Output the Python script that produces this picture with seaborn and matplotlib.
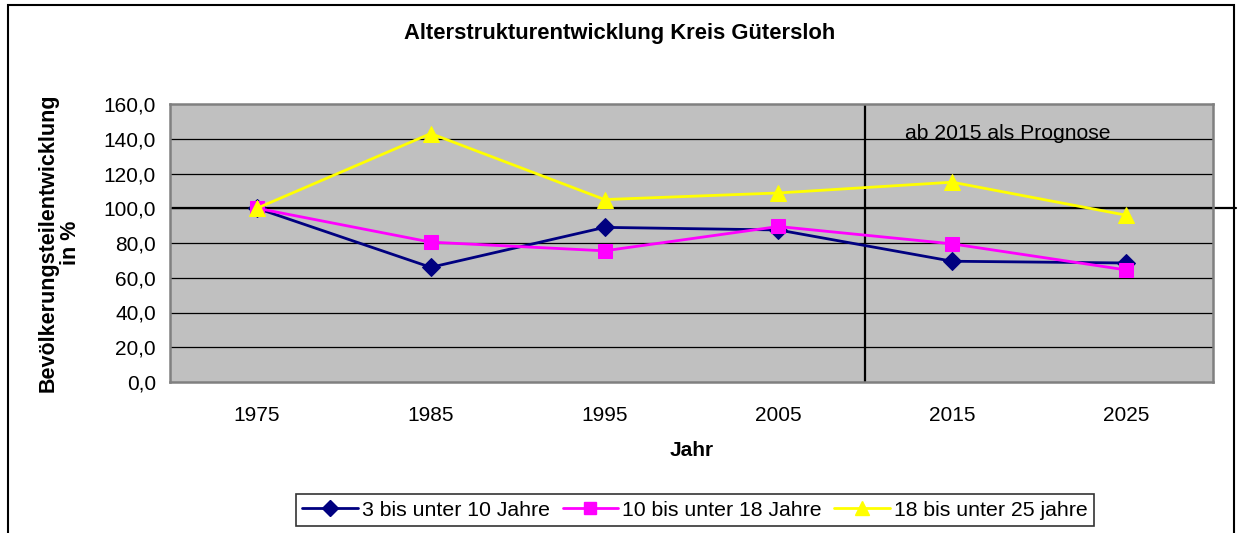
import matplotlib
matplotlib.use("Agg")
import matplotlib.pyplot as plt
import matplotlib.patches as mpatches
from matplotlib.lines import Line2D
import seaborn as sns
import pandas as pd

years = ["1975", "1985", "1995", "2005", "2015", "2025"]
s_3_10 = [100.0, 66.0, 89.0, 87.5, 69.5, 68.5]
s_10_18 = [100.0, 80.5, 75.5, 89.5, 79.5, 64.5]
s_18_25 = [100.0, 143.0, 105.0, 108.8, 115.0, 96.0]
series_names = ["3 bis unter 10 Jahre", "10 bis unter 18 Jahre", "18 bis unter 25 jahre"]
yticks = [0, 20, 40, 60, 80, 100, 120, 140, 160]

rows = []
for name, vals in zip(series_names, [s_3_10, s_10_18, s_18_25]):
    for i, (yr, v) in enumerate(zip(years, vals)):
        rows.append({"Jahr": i, "Wert": v, "Serie": name})
df = pd.DataFrame(rows)

sns.set_style("white")
plt.rcParams["font.family"] = ["Liberation Sans", "DejaVu Sans"]
plt.rcParams["text.color"] = "#000000"
plt.rcParams["axes.labelcolor"] = "#000000"
plt.rcParams["xtick.color"] = "#000000"
plt.rcParams["ytick.color"] = "#000000"
plt.rcParams["xtick.labelcolor"] = "#000000"
plt.rcParams["ytick.labelcolor"] = "#000000"

colors = {"3 bis unter 10 Jahre": "#000080",
          "10 bis unter 18 Jahre": "#FF00FF",
          "18 bis unter 25 jahre": "#FFFF00"}
markers = {"3 bis unter 10 Jahre": "D",
           "10 bis unter 18 Jahre": "s",
           "18 bis unter 25 jahre": "^"}
msizes = {"3 bis unter 10 Jahre": 9,
          "10 bis unter 18 Jahre": 10,
          "18 bis unter 25 jahre": 11}

fig = plt.figure(figsize=(12.39, 5.33), dpi=100)
ax = fig.add_axes([170 / 1239, 1 - 382 / 533, (1213 - 170) / 1239, (382 - 104) / 533])
ax.set_facecolor("#C0C0C0")

ax.set_ylim(0, 160)
ax.set_xlim(-0.5, 5.5)
for yv in yticks[1:-1]:
    ax.axhline(yv, color="#000000", lw=0.9, zorder=1)

ax.axvline(3.5, color="#000000", lw=1.6, zorder=2)
ax.add_line(Line2D([-0.49, 5.63], [100, 100], color="#000000", lw=1.6,
                   clip_on=False, zorder=2))

for name in series_names:
    sub = df[df["Serie"] == name]
    sns.lineplot(data=sub, x="Jahr", y="Wert", ax=ax, color=colors[name],
                 marker=markers[name], markersize=msizes[name],
                 markeredgecolor=colors[name], lw=2, zorder=3, legend=False)

ax.text(0.705, 0.895, "ab 2015 als Prognose", transform=ax.transAxes,
        fontsize=15.2, color="#000000", va="center", ha="left")

for side in ["top", "right", "left", "bottom"]:
    ax.spines[side].set_color("#808080")
    ax.spines[side].set_linewidth(1.8)

ax.set_yticks(yticks)
ax.set_yticklabels([f"{v:.1f}".replace(".", ",") for v in yticks], fontsize=15)
ax.set_xticks(range(len(years)))
ax.set_xticklabels(years, fontsize=15)
ax.tick_params(axis="x", which="major", length=0, pad=17, labelcolor="#000000")
ax.set_xticks([i - 0.5 for i in range(len(years) + 1)], minor=True)
ax.tick_params(axis="x", which="minor", length=6, width=1, color="#000000", direction="out")
ax.tick_params(axis="y", length=6, width=1, color="#000000", direction="out", pad=4,
               labelcolor="#000000")

ax.set_xlabel("Jahr", fontsize=15, fontweight="bold", color="#000000")
ax.xaxis.set_label_coords(0.5, -(450 - 382) / 278, transform=ax.transAxes)
ax.xaxis.label.set_va("center")
ax.set_ylabel("Bevölkerungsteilentwicklung\nin %", fontsize=15.5, fontweight="bold",
              linespacing=1.1, color="#000000")
ax.yaxis.set_label_coords((59 - 170) / 1043, 0.5, transform=ax.transAxes)
ax.yaxis.label.set_va("center")

fig.text(0.5, 1 - 33 / 533, "Alterstrukturentwicklung Kreis Gütersloh",
         ha="center", va="center", fontsize=15.8, fontweight="bold", color="#000000")

handles = [Line2D([], [], color=colors[n], marker=markers[n], markersize=msizes[n] - 1,
                  lw=2, markeredgecolor=colors[n]) for n in series_names]
leg = fig.legend(handles, series_names, loc="center", ncol=3,
                 bbox_to_anchor=(695 / 1239, 1 - 510 / 533), fontsize=15.3,
                 frameon=True, fancybox=False, edgecolor="#000000",
                 handlelength=2.6, handletextpad=0.2, columnspacing=0.6,
                 borderpad=0.3, labelcolor="#000000")
leg.get_frame().set_linewidth(1.2)

fig.patches.append(mpatches.Rectangle((8 / 1239, -0.05), (1234 - 8) / 1239, 1.05 - 5 / 533,
                                      transform=fig.transFigure, fill=False,
                                      edgecolor="#000000", lw=1.5))

fig.savefig("out.png", dpi=100)
